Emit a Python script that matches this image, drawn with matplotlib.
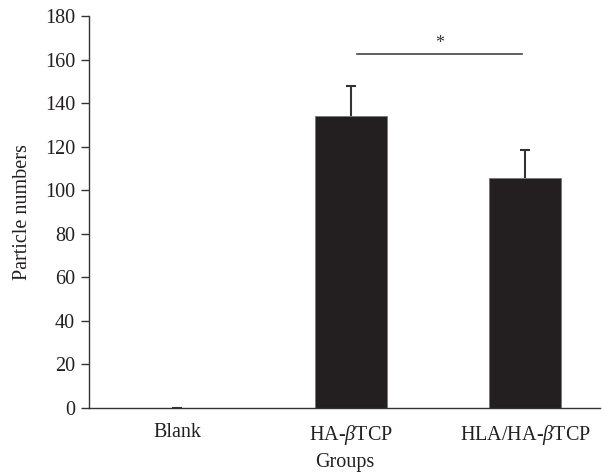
import matplotlib
matplotlib.use("Agg")
import matplotlib.pyplot as plt

# Data
groups = ["Blank", r"HA-$\beta$TCP", r"HLA/HA-$\beta$TCP"]
means = [0.0, 134.0, 105.7]
errors = [0.0, 14.0, 12.8]
sig_pair = (1, 2)
sig_height = 162.5
sig_label = "*"

plt.rcParams["font.family"] = "Liberation Serif"
plt.rcParams["mathtext.fontset"] = "custom"
plt.rcParams["mathtext.it"] = "Liberation Serif:italic"
plt.rcParams["mathtext.rm"] = "Liberation Serif"

DARK = "#231f20"
AXIS = "#333333"
FS = 14.5

fig = plt.figure(figsize=(6.03, 4.75), dpi=100)
ax = fig.add_axes([0.1476, 0.141, 0.8474, 0.825])

x = list(range(len(groups)))
ax.bar(x, means, width=0.41, color=DARK, edgecolor="#777777", linewidth=0.6, zorder=2)

# upper-only error bars
cap = 0.028
tops = [m + e for m, e in zip(means, errors)]
ax.vlines(x, means, tops, color=AXIS, lw=1.5, zorder=3)
ax.hlines(tops, [xi - cap for xi in x], [xi + cap for xi in x], color=AXIS, lw=1.5, zorder=3)

# significance bar
x0, x1 = sig_pair
ax.plot([x0 + 0.035, x1 - 0.02], [sig_height, sig_height], color="#444444", lw=1.2)
ax.text((x0 + x1) / 2 + 0.007, sig_height + 1.0, sig_label, ha="center", va="bottom",
        fontsize=13, color=AXIS)

ax.set_xlim(-0.506, 2.43)
ax.set_ylim(0, 180)
ax.set_yticks(range(0, 181, 20))
ax.set_xticks(x)
ax.set_xticklabels(groups)

for s in ["top", "right"]:
    ax.spines[s].set_visible(False)
for s in ["left", "bottom"]:
    ax.spines[s].set_color(AXIS)
    ax.spines[s].set_linewidth(1.0)

ax.tick_params(axis="y", direction="out", length=6, width=1.0, color=AXIS,
               labelsize=FS, labelcolor=DARK, pad=4)
ax.tick_params(axis="x", length=0, labelsize=FS, labelcolor=DARK, pad=11)

ax.set_xlabel("Groups", fontsize=FS, color=DARK, labelpad=4)
ax.set_ylabel("Particle numbers", fontsize=FS, color=DARK, labelpad=9)

fig.savefig("out.png", dpi=100)
